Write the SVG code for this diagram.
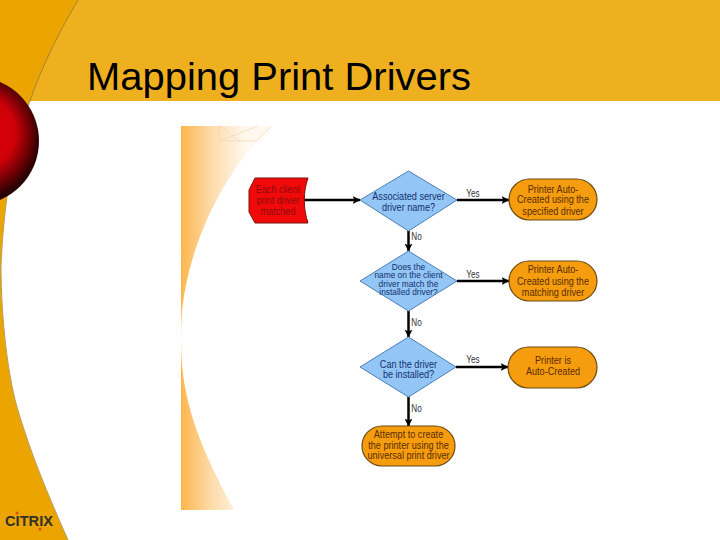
<svg xmlns="http://www.w3.org/2000/svg" width="720" height="540" viewBox="0 0 720 540">
<style>
.d{fill:#93c6f7;stroke:#4a7fb5;stroke-width:1}
.t{fill:#f59d0e;stroke:#6b4a10;stroke-width:1.2}
.c{stroke:#000;stroke-width:2.500;fill:none;marker-end:url(#a)}
text{font-family:"Liberation Sans",sans-serif;text-anchor:middle}
.l{font-size:11px}
.s{font-size:9.600px}
.dt{fill:#12306a}.tt{fill:#5a2c00}
.e{font-size:10px;fill:#333}
</style>
<defs>
<marker id="a" viewBox="0 0 8 8" refX="7.500" refY="4" markerUnits="userSpaceOnUse" markerWidth="8" markerHeight="8" orient="auto"><path d="M0 0L8 4L0 8L2 4Z" fill="#000"/></marker>
<radialGradient id="s" gradientUnits="userSpaceOnUse" cx="-25" cy="135" r="65" fx="-15" fy="130"><stop offset="0" stop-color="#e00010"/><stop offset=".55" stop-color="#cf0008"/><stop offset=".82" stop-color="#6e0004"/><stop offset="1" stop-color="#2a0002"/></radialGradient>
<linearGradient id="f" gradientUnits="userSpaceOnUse" x1="181" y1="0" x2="245" y2="0"><stop offset="0" stop-color="#fdb64c"/><stop offset=".45" stop-color="#fdd9a6"/><stop offset="1" stop-color="#fff8ef"/></linearGradient>
</defs>
<rect width="720" height="540" fill="#fff"/>
<rect id="band" width="720" height="101" fill="#efb020"/>
<path id="side" d="M0 0H78C62 27 42 65 30 101C14 140 4 200 1 265C1 320 8 375 17 407C30 452 48 495 68 540H0Z" fill="#eba400"/>
<path d="M78 0C62 27 42 65 30 101" fill="none" stroke="#a8842c" stroke-width="1"/>
<path d="M30 101C14 140 4 200 1 265C1 320 8 375 17 407C30 452 48 495 68 540" fill="none" stroke="#b5a060" stroke-width="1"/>
<circle id="sphere" cx="-25" cy="141" r="64" fill="url(#s)"/>
<text x="87" y="90" style="text-anchor:start;font-size:38px;fill:#000" textLength="384" lengthAdjust="spacingAndGlyphs">Mapping Print Drivers</text>
<g id="swatch">
<path d="M181 126H272C225 170 190 240 182 310Q180 340 182 365C187 420 210 465 234 510H181Z" fill="url(#f)"/>
<path d="M219 126V141H257L272 126M219 126L240 141M258 126L219 141" fill="none" stroke="#f3d6ae" stroke-width=".7"/>
</g>
<g id="connectors">
<path class="c" d="M303 200H360"/>
<path class="c" d="M457 200H509"/>
<path class="c" d="M457 281H509"/>
<path class="c" d="M456 367H508"/>
<path class="c" d="M408.500 231V251"/>
<path class="c" d="M408.500 311V337"/>
<path class="c" d="M408.500 397V426"/>
<text class="e" transform="translate(473 197) scale(.82 1)">Yes</text>
<text class="e" transform="translate(473 278) scale(.82 1)">Yes</text>
<text class="e" transform="translate(473 363) scale(.82 1)">Yes</text>
<text class="e" transform="translate(416.500 240) scale(.82 1)">No</text>
<text class="e" transform="translate(416.500 326) scale(.82 1)">No</text>
<text class="e" transform="translate(416.500 412) scale(.82 1)">No</text>
</g>
<g id="start">
<path d="M255 178H308C303 192 303 208 308 223H255L249 212V190Z" fill="#f20a0a" stroke="#7a1010" stroke-width="1"/>
<text class="l" fill="#8a0a0a" transform="translate(278 0) scale(.83 1)"><tspan x="0" y="193">Each client</tspan><tspan x="0" y="204">print driver</tspan><tspan x="0" y="215">matched</tspan></text>
</g>
<g id="q1">
<path class="d" d="M408.500 171L457 200L408.500 231L360 200Z"/>
<text class="l dt" transform="translate(408.500 0) scale(.83 1)"><tspan x="0" y="200">Associated server</tspan><tspan x="0" y="211">driver name?</tspan></text>
</g>
<g id="q2">
<path class="d" d="M408.500 251L457 281L408.500 311L360 281Z"/>
<text class="s dt" transform="translate(408.500 0) scale(.87 1)"><tspan x="0" y="270">Does the</tspan><tspan x="0" y="278.500">name on the client</tspan><tspan x="0" y="287">driver match the</tspan><tspan x="0" y="295.500">installed driver?</tspan></text>
</g>
<g id="q3">
<path class="d" d="M408.500 337L456 367L408.500 397L360 367Z"/>
<text class="l dt" transform="translate(408.500 0) scale(.83 1)"><tspan x="0" y="368">Can the driver</tspan><tspan x="0" y="378.500">be installed?</tspan></text>
</g>
<g id="r1">
<rect class="t" x="509" y="179" width="88" height="41" rx="20.500"/>
<text class="l tt" transform="translate(553 0) scale(.83 1)"><tspan x="0" y="193">Printer Auto-</tspan><tspan x="0" y="203.500">Created using the</tspan><tspan x="0" y="215">specified driver</tspan></text>
</g>
<g id="r2">
<rect class="t" x="509" y="261" width="88" height="40" rx="20"/>
<text class="l tt" transform="translate(553 0) scale(.83 1)"><tspan x="0" y="273.500">Printer Auto-</tspan><tspan x="0" y="285">Created using the</tspan><tspan x="0" y="296">matching driver</tspan></text>
</g>
<g id="r3">
<rect class="t" x="508" y="347" width="89" height="41" rx="20.500"/>
<text class="l tt" transform="translate(553 0) scale(.83 1)"><tspan x="0" y="364">Printer is</tspan><tspan x="0" y="375">Auto-Created</tspan></text>
</g>
<g id="r4">
<rect class="t" x="362" y="426" width="93" height="40" rx="20"/>
<text class="l tt" transform="translate(408.500 0) scale(.83 1)"><tspan x="0" y="438">Attempt to create</tspan><tspan x="0" y="449">the printer using the</tspan><tspan x="0" y="459.500">universal print driver</tspan></text>
</g>
<g id="logo">
<text x="29" y="526" style="font-weight:bold;font-size:14px;fill:#33302a" textLength="48" lengthAdjust="spacingAndGlyphs">CITRIX</text>
<circle cx="17" cy="513" r="1.500" fill="#d8501a"/>
<circle cx="40" cy="529" r="1.500" fill="#d8501a"/>
</g>
</svg>
